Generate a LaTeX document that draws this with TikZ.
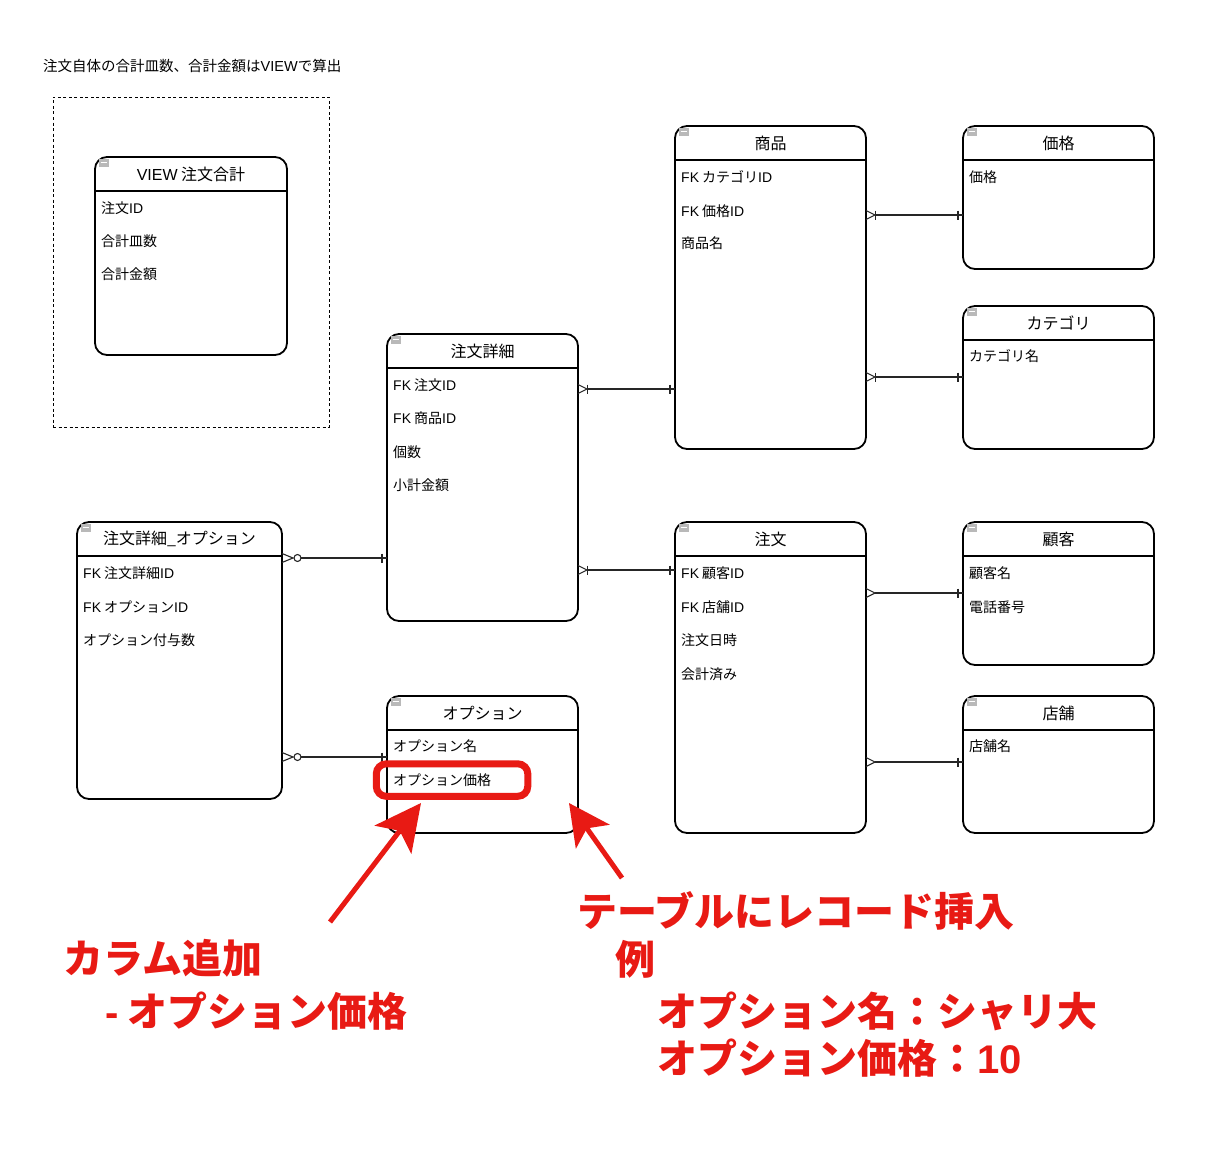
\documentclass[tikz,border=0pt]{standalone}
\usepackage{fontspec}
\setmainfont{Noto Sans CJK JP}
\newfontfamily\latf{Liberation Sans}
\usetikzlibrary{arrows.meta,calc}
\definecolor{annred}{RGB}{232,26,20}
\tikzset{
  tbl/.style={draw, line width=1.8pt, rounded corners=12pt, anchor=north west, inner sep=0pt, outer sep=0pt, fill=white},
  hdr/.style={line width=1.3pt},
  ttl/.style={font=\fontsize{16}{19}\selectfont, inner sep=0pt},
  fld/.style={font=\fontsize{14}{17}\selectfont, inner sep=0pt, anchor=west},
  conn/.style={line width=1.1pt, black!85},
  ann/.style={font=\fontsize{40}{48}\selectfont\bfseries, text=annred, inner sep=0pt, anchor=west},
  annarrow/.style={annred, line width=5pt},
}
\newcommand\ertbl[6]{%
  \node[tbl, minimum width=#4pt, minimum height=#5pt] (#1) at (#2,#3) {};
  \draw[hdr] ([yshift=-34pt]#1.north west) -- ([yshift=-34pt]#1.north east);
  \node[ttl] (#1-title) at ([yshift=-17pt]#1.north) {#6};
  \fill[gray!55] ([xshift=4pt,yshift=-1.5pt]#1.north west) rectangle ([xshift=13.5pt,yshift=-10pt]#1.north west);
  \draw[white, line width=0.9pt] ([xshift=5.5pt,yshift=-5.75pt]#1.north west) -- ([xshift=12pt,yshift=-5.75pt]#1.north west);
}
\newcommand\fldrow[3]{\node[fld] (#1-#2) at ([xshift=6pt,yshift=-#2pt]#1.north west) {#3};}
% end decorations
\newcommand\crowbar[1]{%
  \draw[conn] ([yshift=4.5pt]#1) -- ([xshift=9pt]#1) -- ([yshift=-4.5pt]#1);
  \draw[conn] ([xshift=9.5pt,yshift=4.5pt]#1) -- ([xshift=9.5pt,yshift=-4.5pt]#1);}
\newcommand\crowonly[1]{%
  \draw[conn] ([yshift=4.5pt]#1) -- ([xshift=9pt]#1) -- ([yshift=-4.5pt]#1);}
\newcommand\crowzero[1]{%
  \draw[conn] ([yshift=4.5pt]#1) -- ([xshift=11pt]#1) -- ([yshift=-4.5pt]#1);
  \draw[conn, fill=white] ([xshift=15.5pt]#1) circle (3.5pt);}
\newcommand\onebar[1]{%
  \draw[conn] ([xshift=-5pt,yshift=4.5pt]#1) -- ([xshift=-5pt,yshift=-4.5pt]#1);}
\begin{document}
\begin{tikzpicture}[x=1pt,y=-1pt]
\fill[white] (0,0) rectangle (1218,1164);
\useasboundingbox (0,0) rectangle (1218,1164);

% note and view group
\node[font=\fontsize{14.5}{17}\selectfont, inner sep=0pt, anchor=west] (note) at (43,66) {注文自体の合計皿数、合計金額は{\latf VIEW}で算出};
\node[draw, line width=0.9pt, dash pattern=on 3pt off 2.5pt, minimum width=276pt, minimum height=330pt, anchor=north west, inner sep=0pt, outer sep=0pt] (grp) at (53,97) {};

% tables
\ertbl{view}{95}{157}{192}{198}{{\latf VIEW} 注文合計}
\fldrow{view}{51}{注文{\latf ID}}
\fldrow{view}{84}{合計皿数}
\fldrow{view}{117}{合計金額}

\ertbl{shohin}{675}{126}{191}{323}{商品}
\fldrow{shohin}{51}{{\latf FK} カテゴリ{\latf ID}}
\fldrow{shohin}{85}{{\latf FK} 価格{\latf ID}}
\fldrow{shohin}{117}{商品名}

\ertbl{kakaku}{963}{126}{191}{143}{価格}
\fldrow{kakaku}{51}{価格}

\ertbl{cat}{963}{306}{191}{143}{カテゴリ}
\fldrow{cat}{50}{カテゴリ名}

\ertbl{shosai}{387}{334}{191}{287}{注文詳細}
\fldrow{shosai}{51}{{\latf FK} 注文{\latf ID}}
\fldrow{shosai}{84}{{\latf FK} 商品{\latf ID}}
\fldrow{shosai}{118}{個数}
\fldrow{shosai}{151}{小計金額}

\ertbl{chumon}{675}{522}{191}{311}{注文}
\fldrow{chumon}{51}{{\latf FK} 顧客{\latf ID}}
\fldrow{chumon}{85}{{\latf FK} 店舗{\latf ID}}
\fldrow{chumon}{118}{注文日時}
\fldrow{chumon}{152}{会計済み}

\ertbl{kokyaku}{963}{522}{191}{143}{顧客}
\fldrow{kokyaku}{51}{顧客名}
\fldrow{kokyaku}{85}{電話番号}

\ertbl{tenpo}{963}{696}{191}{137}{店舗}
\fldrow{tenpo}{50}{店舗名}

\ertbl{optdet}{77}{522}{205}{277}{注文詳細\_オプション}
\fldrow{optdet}{51}{{\latf FK} 注文詳細{\latf ID}}
\fldrow{optdet}{85}{{\latf FK} オプション{\latf ID}}
\fldrow{optdet}{118}{オプション付与数}

\ertbl{option}{387}{696}{191}{137}{オプション}
\fldrow{option}{50}{オプション名}
\fldrow{option}{84}{オプション価格}

% connectors
\coordinate (c1a) at (shohin.east |- 0,215);  \coordinate (c1b) at (kakaku.west |- 0,215);
\draw[conn] ([xshift=9pt]c1a) -- (c1b); \crowbar{c1a} \onebar{c1b}
\coordinate (c2a) at (shohin.east |- 0,377);  \coordinate (c2b) at (cat.west |- 0,377);
\draw[conn] ([xshift=9pt]c2a) -- (c2b); \crowbar{c2a} \onebar{c2b}
\coordinate (c3a) at (shosai.east |- 0,389);  \coordinate (c3b) at (shohin.west |- 0,389);
\draw[conn] ([xshift=9pt]c3a) -- (c3b); \crowbar{c3a} \onebar{c3b}
\coordinate (c4a) at (shosai.east |- 0,570);  \coordinate (c4b) at (chumon.west |- 0,570);
\draw[conn] ([xshift=9pt]c4a) -- (c4b); \crowbar{c4a} \onebar{c4b}
\coordinate (c5a) at (chumon.east |- 0,593);  \coordinate (c5b) at (kokyaku.west |- 0,593);
\draw[conn] ([xshift=9pt]c5a) -- (c5b); \crowonly{c5a} \onebar{c5b}
\coordinate (c6a) at (chumon.east |- 0,762);  \coordinate (c6b) at (tenpo.west |- 0,762);
\draw[conn] ([xshift=9pt]c6a) -- (c6b); \crowonly{c6a} \onebar{c6b}
\coordinate (c7a) at (optdet.east |- 0,558);  \coordinate (c7b) at (shosai.west |- 0,558);
\draw[conn] ([xshift=19pt]c7a) -- (c7b); \crowzero{c7a} \onebar{c7b}
\coordinate (c8a) at (optdet.east |- 0,757);  \coordinate (c8b) at (option.west |- 0,757);
\draw[conn] ([xshift=19pt]c8a) -- (c8b); \crowzero{c8a} \onebar{c8b}

% red annotations
\node[draw=annred, line width=7pt, rounded corners=10pt, minimum width=151.5pt, minimum height=32.5pt, anchor=north west, inner sep=0pt, outer sep=0pt] (hl) at (376.3,763.8) {};
\coordinate (la) at (330,922); \coordinate (lt) at (421,803);
\draw[annarrow, -{Stealth[length=46pt, width=46pt, inset=11pt]}] (la) -- (lt);
\coordinate (ra) at (622,878); \coordinate (rt) at (569,803);
\draw[annarrow, -{Stealth[length=41pt, width=41pt, inset=10pt]}] (ra) -- (rt);

\node[ann] (a1) at (577,911) {テーブルにレコード挿入};
\node[ann] (a2) at (615,959) {例};
\node[ann] (a3) at (657,1011) {オプション名：シャリ大};
\node[ann] (a4) at (657,1058) {オプション価格：{\latf 10}};
\node[ann] (b1) at (63,958) {カラム追加};
\node[ann] (b2) at (105,1011) {{\latf -} オプション価格};
\end{tikzpicture}
\end{document}
